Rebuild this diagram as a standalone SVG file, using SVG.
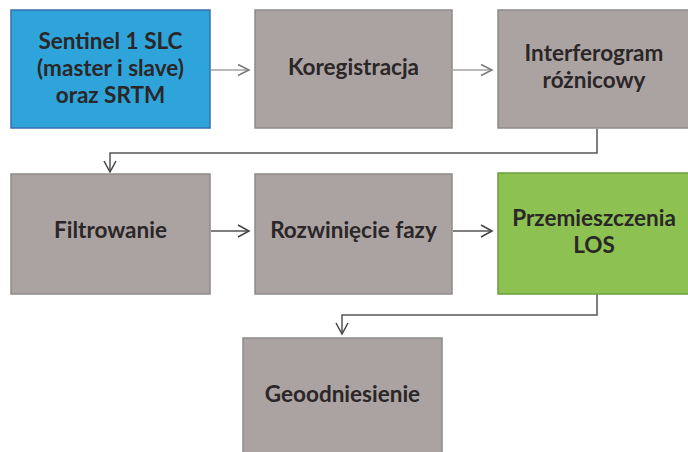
<svg xmlns="http://www.w3.org/2000/svg" width="688" height="452" viewBox="0 0 688 452">
<style>
.box{stroke-width:1.5}
.gray{fill:#ABA3A2;stroke:#8F8B8B}
.blue{fill:#2EA4DA;stroke:#3A6EAE}
.green{fill:#8DC253;stroke:#6B9F3C}
.t{font-family:Lato,"Open Sans",sans-serif;font-weight:700;font-size:22.5px;fill:#2B2627;text-anchor:middle}
.c1{fill:none;stroke:#A3A3A3;stroke-width:1.5}
.c2{fill:none;stroke:#555;stroke-width:1.5}
</style>
<defs>
<marker id="ah1" markerUnits="userSpaceOnUse" markerWidth="14" markerHeight="14" refX="12" refY="7" orient="auto" viewBox="0 0 14 14">
<path d="M1,1.5 L12,7 L1,12.5" fill="none" stroke="#7A7A7A" stroke-width="1.5"/>
</marker>
<marker id="ah2" markerUnits="userSpaceOnUse" markerWidth="14" markerHeight="14" refX="12" refY="7" orient="auto" viewBox="0 0 14 14">
<path d="M1,1 L12,7 L1,13" fill="none" stroke="#444" stroke-width="1.5"/>
</marker>
</defs>
<rect width="688" height="452" fill="#fff"/>
<g id="connectors">
<line class="c1" x1="211" y1="70" x2="249" y2="70" marker-end="url(#ah1)"/>
<line class="c1" x1="453" y1="70" x2="492" y2="70" marker-end="url(#ah1)"/>
<polyline class="c2" points="597,129 597,153 110,153 110,172" marker-end="url(#ah2)"/>
<line class="c2" x1="211" y1="231" x2="249" y2="231" marker-end="url(#ah2)"/>
<line class="c2" x1="453" y1="231" x2="492" y2="231" marker-end="url(#ah2)"/>
<polyline class="c2" points="597,294 597,315 342,315 342,334" marker-end="url(#ah2)"/>
</g>
<g id="n1">
<rect class="box blue" x="11" y="10" width="199" height="118"/>
<text class="t" x="110.5" y="49">Sentinel 1 SLC</text>
<text class="t" x="110.5" y="76">(master i slave)</text>
<text class="t" x="110.5" y="103">oraz SRTM</text>
</g>
<g id="n2">
<rect class="box gray" x="255" y="10" width="197" height="118"/>
<text class="t" x="353.5" y="75">Koregistracja</text>
</g>
<g id="n3">
<rect class="box gray" x="498" y="10" width="195" height="118"/>
<text class="t" x="594" y="61">Interferogram</text>
<text class="t" x="594" y="88">różnicowy</text>
</g>
<g id="n4">
<rect class="box gray" x="11" y="174" width="199" height="120"/>
<text class="t" x="110.5" y="238">Filtrowanie</text>
</g>
<g id="n5">
<rect class="box gray" x="255" y="174" width="197" height="120"/>
<text class="t" x="353.5" y="238">Rozwinięcie fazy</text>
</g>
<g id="n6">
<rect class="box green" x="498" y="173" width="195" height="121"/>
<text class="t" x="594" y="226">Przemieszczenia</text>
<text class="t" x="594" y="253">LOS</text>
</g>
<g id="n7">
<rect class="box gray" x="243" y="338" width="199" height="120"/>
<text class="t" x="342.5" y="402">Geoodniesienie</text>
</g>
</svg>
